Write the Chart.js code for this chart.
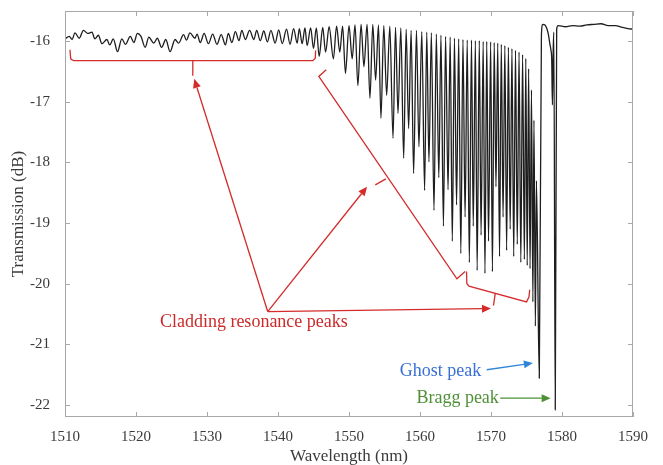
<!DOCTYPE html>
<html>
<head>
<meta charset="utf-8">
<script src="https://cdn.jsdelivr.net/npm/chart.js@4.4.0/dist/chart.umd.min.js"></script>
<style>
  html, body { margin: 0; padding: 0; background: #fff; }
</style>
</head>
<body>
<canvas id="myChart" width="663" height="465"></canvas>
<script>
// spectrum: wavelength (nm) / transmission (dB)
const wavelength = [
  1510.0, 1510.6, 1511.0, 1511.4, 1512.0, 1512.6, 1513.2, 1513.8, 1514.2, 1514.7,
  1515.2, 1515.9, 1516.3, 1516.8, 1517.4, 1518.0, 1518.5, 1519.2, 1519.7, 1520.2,
  1520.7, 1521.3, 1521.8, 1522.5, 1523.0, 1523.6, 1524.2, 1524.8, 1525.5, 1526.0,
  1526.7, 1527.1, 1527.6, 1528.3, 1528.6, 1529.05, 1529.6, 1530.2, 1530.8, 1531.4,
  1532.0, 1532.6, 1533.0, 1533.5, 1534.0, 1534.5, 1534.9, 1535.4, 1536.0, 1536.6,
  1537.0, 1537.5, 1538.0, 1538.5, 1539.0, 1539.6, 1540.1, 1540.6, 1541.2, 1541.7,
  1542.2, 1542.7, 1543.0, 1543.4, 1543.8, 1544.1, 1544.6, 1545.0, 1545.4, 1545.8,
  1546.3, 1546.7, 1547.2, 1547.8, 1548.25, 1548.7, 1549.1, 1549.5, 1550.0, 1550.45,
  1550.85, 1551.25, 1551.7, 1552.1, 1552.55, 1552.95, 1553.35, 1553.75, 1554.15, 1554.5,
  1554.9, 1555.3, 1555.75, 1556.2, 1556.55, 1556.9, 1557.3, 1557.7, 1558.05, 1558.4,
  1558.75, 1559.1, 1559.5, 1559.85, 1560.25, 1560.65, 1560.95, 1561.26, 1561.6, 1561.97,
  1562.3, 1562.65, 1562.95, 1563.3, 1563.6, 1563.95, 1564.25, 1564.55, 1564.85, 1565.15,
  1565.45, 1565.75, 1566.05, 1566.35, 1566.65, 1566.95, 1567.25, 1567.5, 1567.8, 1568.05,
  1568.35, 1568.6, 1568.9, 1569.15, 1569.4, 1569.65, 1569.95, 1570.2, 1570.45, 1570.7,
  1570.95, 1571.2, 1571.45, 1571.7, 1571.95, 1572.2, 1572.45, 1572.7, 1572.95, 1573.2,
  1573.45, 1573.7, 1573.95, 1574.2, 1574.45, 1574.7, 1574.9, 1575.1, 1575.3, 1575.5,
  1575.7, 1575.9, 1576.05, 1576.25, 1576.4, 1576.8, 1577.1, 1577.3, 1577.6, 1577.9,
  1578.1, 1578.3, 1578.45, 1578.55, 1578.65, 1578.75, 1578.85, 1579.05, 1579.25, 1579.45,
  1580.5, 1581.5, 1582.5, 1583.5, 1584.5, 1585.5, 1586.5, 1587.5, 1588.5, 1589.3,
  1590.0
];
const transmission = [
  -15.96, -15.92, -15.97, -15.86, -15.95, -15.82, -15.87, -15.85, -15.96, -15.90,
  -16.04, -15.97, -16.06, -15.96, -16.17, -15.96, -16.05, -15.92, -16.02, -15.87,
  -15.92, -16.10, -15.93, -16.03, -15.95, -16.10, -15.97, -16.17, -15.97, -16.03,
  -15.89, -15.98, -15.86, -15.95, -15.88, -16.02, -15.87, -16.04, -15.88, -16.05,
  -15.89, -16.06, -15.87, -16.02, -15.84, -15.99, -15.82, -15.97, -15.82, -15.97,
  -15.82, -15.99, -15.83, -16.01, -15.82, -16.03, -15.81, -16.04, -15.80, -16.05,
  -15.79, -16.03, -15.79, -16.04, -15.78, -16.07, -15.78, -16.12, -15.78, -16.25,
  -15.77, -16.18, -15.76, -16.29, -15.75, -16.18, -15.75, -16.53, -15.74, -16.29,
  -15.73, -16.73, -15.72, -16.42, -15.72, -16.94, -15.72, -16.64, -15.73, -17.27,
  -15.74, -16.89, -15.75, -17.60, -15.77, -17.19, -15.78, -17.93, -15.80, -17.44,
  -15.82, -18.18, -15.82, -17.74, -15.84, -18.46, -15.85, -17.99, -15.86, -18.79,
  -15.88, -18.25, -15.90, -19.05, -15.92, -18.45, -15.93, -19.30, -15.95, -18.70,
  -15.96, -19.50, -15.97, -18.90, -15.98, -19.65, -15.98, -19.05, -15.99, -19.78,
  -15.99, -19.20, -16.00, -19.83, -16.00, -19.30, -16.01, -19.80, -16.02, -18.40,
  -16.03, -19.55, -16.05, -18.90, -16.07, -19.45, -16.10, -19.10, -16.12, -19.55,
  -16.15, -19.35, -16.18, -19.65, -16.22, -19.60, -16.28, -19.70, -16.45, -19.75,
  -16.80, -20.30, -17.30, -20.70, -18.30, -21.56, -15.90, -15.72, -15.73, -15.80,
  -15.90, -16.05, -16.15, -16.30, -17.05, -16.20, -15.85, -22.08, -15.80, -15.74,
  -15.76, -15.74, -15.75, -15.73, -15.72, -15.71, -15.74, -15.74, -15.77, -15.79,
  -15.80
];
const xTicks = [1510, 1520, 1530, 1540, 1550, 1560, 1570, 1580, 1590];
const yTicks = [-22, -21, -20, -19, -18, -17, -16];

const serif = '"Liberation Serif", "DejaVu Serif", serif';

// box round the plot with inward ticks on all four sides
const boxPlugin = {
  id: 'box',
  afterDatasetsDraw(chart) {
    const { ctx, chartArea: { left, right, top, bottom }, scales: { x, y } } = chart;
    ctx.save();
    ctx.strokeStyle = '#a8a8a8';
    ctx.lineWidth = 1;
    ctx.strokeRect(left + 0.5, top + 0.5, right - left - 1, bottom - top - 1);
    ctx.beginPath();
    xTicks.forEach(v => {
      const p = Math.round(x.getPixelForValue(v)) + 0.5;
      ctx.moveTo(p, bottom); ctx.lineTo(p, bottom - 5);
      ctx.moveTo(p, top); ctx.lineTo(p, top + 5);
    });
    yTicks.forEach(v => {
      const p = Math.round(y.getPixelForValue(v)) + 0.5;
      ctx.moveTo(left, p); ctx.lineTo(left + 5, p);
      ctx.moveTo(right, p); ctx.lineTo(right - 5, p);
    });
    ctx.stroke();
    ctx.restore();
  }
};

// red braces, arrows and the peak labels
const annotationPlugin = {
  id: 'peakNotes',
  afterDatasetsDraw(chart) {
    const { ctx, scales: { x, y } } = chart;
    const pt = (w, d) => [x.getPixelForValue(w), y.getPixelForValue(d)];

    function path(points, color) {
      ctx.beginPath();
      points.forEach((p, i) => {
        const [a, b] = pt(p[0], p[1]);
        if (i === 0) ctx.moveTo(a, b); else ctx.lineTo(a, b);
      });
      ctx.strokeStyle = color;
      ctx.stroke();
    }

    function arrow(from, to, color) {
      const [x0, y0] = pt(from[0], from[1]);
      const [x1, y1] = pt(to[0], to[1]);
      const ang = Math.atan2(y1 - y0, x1 - x0);
      const len = 9, half = 4;
      const bx = x1 - len * Math.cos(ang), by = y1 - len * Math.sin(ang);
      ctx.beginPath();
      ctx.moveTo(x0, y0);
      ctx.lineTo(bx, by);
      ctx.strokeStyle = color;
      ctx.stroke();
      ctx.beginPath();
      ctx.moveTo(x1, y1);
      ctx.lineTo(bx + half * Math.sin(ang), by - half * Math.cos(ang));
      ctx.lineTo(bx - half * Math.sin(ang), by + half * Math.cos(ang));
      ctx.closePath();
      ctx.fillStyle = color;
      ctx.fill();
    }

    function label(text, w, d, color) {
      const [a, b] = pt(w, d);
      ctx.font = '18px ' + serif;
      ctx.fillStyle = color;
      ctx.textAlign = 'center';
      ctx.textBaseline = 'middle';
      ctx.fillText(text, a, b);
    }

    ctx.save();
    ctx.lineWidth = 1.3;
    const red = '#d42b2b';

    // brace over the weak resonances
    path([[1510.7, -16.14], [1510.8, -16.29], [1511.2, -16.32], [1544.9, -16.32], [1545.25, -16.28], [1545.3, -16.15]], red);
    path([[1528.0, -16.32], [1528.0, -16.57]], red);

    // diagonal brace
    path([[1546.8, -16.47], [1545.75, -16.58], [1565.2, -19.92], [1566.35, -19.8]], red);
    path([[1555.2, -18.27], [1553.7, -18.37]], red);

    // lower brace
    path([[1566.55, -19.8], [1566.6, -20.0], [1566.9, -20.04], [1575.0, -20.3], [1575.35, -20.22], [1575.45, -20.1]], red);
    path([[1570.6, -20.16], [1570.35, -20.36]], red);

    // arrows from the label
    arrow([1538.55, -20.46], [1528.2, -16.62], red);
    arrow([1538.55, -20.46], [1552.55, -18.4], red);
    arrow([1538.55, -20.46], [1570.0, -20.41], red);

    label('Cladding resonance peaks', 1536.6, -20.64, '#cc2a2a');

    arrow([1569.4, -21.42], [1575.9, -21.31], '#2f86d8');
    label('Ghost peak', 1562.9, -21.44, '#3a6fd4');

    arrow([1571.3, -21.89], [1578.4, -21.89], '#4d8f34');
    label('Bragg peak', 1565.3, -21.89, '#4f8f36');

    ctx.restore();
  }
};

Chart.register(boxPlugin);
Chart.register(annotationPlugin);

const ctx = document.getElementById('myChart').getContext('2d');
const chart = new Chart(ctx, {
  type: 'line',
  data: {
    datasets: [{
      label: 'Transmission',
      data: wavelength.map((w, i) => ({ x: w, y: transmission[i] })),
      borderColor: '#1e1e1e',
      borderWidth: 1.3,
      pointRadius: 0,
      cubicInterpolationMode: 'monotone',
      fill: false
    }]
  },
  options: {
    responsive: false,
    animation: false,
    layout: { padding: { left: 0, right: 30, top: 11, bottom: 0 } },
    plugins: {
      legend: { display: false },
      tooltip: { enabled: false }
    },
    scales: {
      x: {
        type: 'linear',
        min: 1510,
        max: 1590,
        afterBuildTicks: scale => { scale.ticks = xTicks.map(v => ({ value: v })); },
        afterFit: scale => {
          scale.height = 48;
          scale.paddingLeft = 0;
          scale.paddingRight = 0;
        },
        grid: { display: false, drawTicks: false },
        border: { display: false },
        ticks: {
          padding: 11,
          color: '#3a3a3a',
          font: { family: serif, size: 15 },
          maxRotation: 0,
          callback: v => String(v)
        },
        title: {
          display: true,
          text: 'Wavelength (nm)',
          color: '#3a3a3a',
          font: { family: serif, size: 17, lineHeight: 1 },
          padding: { top: 0, bottom: 0 }
        }
      },
      y: {
        min: -22.2,
        max: -15.5,
        afterBuildTicks: scale => { scale.ticks = yTicks.map(v => ({ value: v })); },
        afterFit: scale => {
          scale.width = 65;
          scale.paddingTop = 0;
          scale.paddingBottom = 0;
        },
        grid: { display: false, drawTicks: false },
        border: { display: false },
        ticks: {
          padding: 15,
          color: '#3a3a3a',
          font: { family: serif, size: 15 },
          callback: v => String(v)
        },
        title: {
          display: true,
          text: 'Transmission (dB)',
          color: '#3a3a3a',
          font: { family: serif, size: 17, lineHeight: 1 },
          padding: { top: 10, bottom: 0 }
        }
      }
    }
  }
});
</script>
</body>
</html>
